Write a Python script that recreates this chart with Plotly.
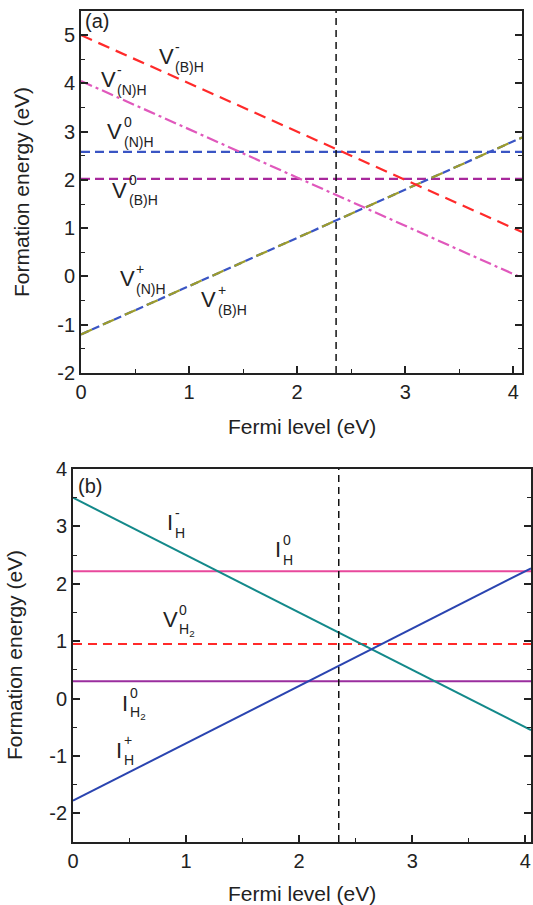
import plotly.graph_objects as go

# ---------------- data ----------------
# Panel (a)
fermi_a = [0.0, 4.08]
v_minus_bh = [5.0, 0.92]          # V^-_(B)H
v_minus_nh = [4.05, -0.03]        # V^-_(N)H
v_zero_nh = [2.58, 2.58]          # V^0_(N)H
v_zero_bh = [2.02, 2.02]          # V^0_(B)H
v_plus_nh = [-1.2, 2.88]          # V^+_(N)H
v_plus_bh = [-1.2, 2.88]          # V^+_(B)H
vline_a = 2.36

# Panel (b)
fermi_b = [0.0, 4.05]
i_minus_h = [3.5, -0.55]          # I^-_H
i_zero_h = [2.22, 2.22]           # I^0_H
v_zero_h2 = [0.95, 0.95]          # V^0_H2
i_zero_h2 = [0.30, 0.30]          # I^0_H2
i_plus_h = [-1.78, 2.27]          # I^+_H
vline_b = 2.35

xticks = [0, 1, 2, 3, 4]
xtick_text = ["0", "1", "2", "3", "4"]
yticks_a = [-2, -1, 0, 1, 2, 3, 4, 5]
ytick_text_a = ["-2", "-1", "0", "1", "2", "3", "4", "5"]
yticks_b = [-2, -1, 0, 1, 2, 3, 4]
ytick_text_b = ["-2", "-1", "0", "1", "2", "3", "4"]

# ---------------- figure ----------------
W, H = 533, 905
fig = go.Figure()

def line(x, y, color, dash, xa, ya, width=2.0):
    fig.add_trace(go.Scatter(x=x, y=y, mode="lines", xaxis=xa, yaxis=ya,
                             line=dict(color=color, dash=dash, width=width),
                             showlegend=False, hoverinfo="skip"))

# panel a
line(fermi_a, v_zero_nh, "#3a55c4", "9px,5px", "x", "y", 2.2)
line(fermi_a, v_zero_bh, "#a8289c", "9px,5px", "x", "y", 2.2)
line(fermi_a, v_plus_nh, "#3a55c4", "8px,4px", "x", "y", 2.2)
line(fermi_a, v_plus_bh, "#9c9c2c", "12px,12px", "x", "y", 2.2)
line(fermi_a, v_minus_bh, "#ff2a2a", "12px,7px", "x", "y", 2.2)
line(fermi_a, v_minus_nh, "#e058bc", "12px,4px,3px,4px", "x", "y", 2.2)
line([vline_a, vline_a], [-2, 5.5], "#111111", "7px,5px", "x", "y", 1.5)

# panel b
line(fermi_b, i_zero_h, "#e8489c", "solid", "x2", "y2")
line(fermi_b, v_zero_h2, "#ff2a2a", "9px,6px", "x2", "y2")
line(fermi_b, i_zero_h2, "#9a2e9e", "solid", "x2", "y2")
line(fermi_b, i_minus_h, "#13898a", "solid", "x2", "y2")
line(fermi_b, i_plus_h, "#2a44b0", "solid", "x2", "y2")
line([vline_b, vline_b], [-2.5, 4], "#111111", "7px,5px", "x2", "y2", 1.5)

FONT = "Liberation Sans, Arial, sans-serif"
tickfont = dict(family=FONT, size=20, color="#222222")

def xaxis_cfg(rng, dom, anchor):
    return dict(range=rng, domain=dom, anchor=anchor, showgrid=False, zeroline=False,
                automargin=False,
                showline=True, linecolor="#222222", linewidth=1.8, mirror=True,
                ticks="inside", ticklen=7, tickwidth=1.5, tickcolor="#222222",
                tickvals=xticks, ticktext=xtick_text, tickfont=tickfont,
                minor=dict(dtick=0.5, tick0=0, ticks="inside", ticklen=4,
                           tickwidth=1.3, tickcolor="#222222"))

def yaxis_cfg(rng, dom, anchor, tv, tt):
    return dict(range=rng, domain=dom, anchor=anchor, showgrid=False, zeroline=False,
                automargin=False,
                showline=True, linecolor="#222222", linewidth=1.8, mirror="ticks",
                ticks="inside", ticklen=7, tickwidth=1.5, tickcolor="#222222",
                tickvals=tv, ticktext=tt, tickfont=tickfont,
                minor=dict(dtick=0.5, tick0=0, ticks="inside", ticklen=4,
                           tickwidth=1.3, tickcolor="#222222"))

fig.update_layout(
    width=W, height=H, margin=dict(l=0, r=0, t=0, b=0),
    paper_bgcolor="white", plot_bgcolor="white",
    xaxis=xaxis_cfg([0, 4.08], [81 / W, 522 / W], "y"),
    yaxis=yaxis_cfg([-2, 5.5], [(H - 373) / H, (H - 11) / H], "x", yticks_a, ytick_text_a),
    xaxis2=xaxis_cfg([0, 4.05], [73 / W, 531 / W], "y2"),
    yaxis2=yaxis_cfg([-2.5, 4], [(H - 842) / H, (H - 469) / H], "x2", yticks_b, ytick_text_b),
)

ann = []

def text(x, y, s, xref, yref, size=21, xanchor="center", xshift=0, yshift=0):
    ann.append(dict(x=x, y=y, xref=xref, yref=yref, text=s, showarrow=False,
                    xanchor=xanchor, yanchor="middle", xshift=xshift, yshift=yshift,
                    font=dict(family=FONT, size=size, color="#222222")))

def label(x, y, main, sup, sub, ax, half):
    xr, yr = ("x", "y") if ax == "a" else ("x2", "y2")
    text(x, y, main, xr, yr, 22)
    text(x, y, sup, xr, yr, 14, "left", half, 10)
    text(x, y, sub, xr, yr, 14, "left", half, -10)

# panel a labels
label(0.79, 4.55, "V", "-", "(B)H", "a", 7)
label(0.25, 4.08, "V", "-", "(N)H", "a", 7)
label(0.31, 3.00, "V", "0", "(N)H", "a", 7)
label(0.36, 1.79, "V", "0", "(B)H", "a", 7)
label(0.43, -0.05, "V", "+", "(N)H", "a", 7)
label(1.18, -0.48, "V", "+", "(B)H", "a", 7)
text(0.15, 5.29, "(a)", "x", "y", 20)

# panel b labels
label(0.86, 3.06, "I", "-", "H", "b", 3)
label(1.81, 2.59, "I", "0", "H", "b", 3)
label(0.86, 1.37, "V", "0", "H<sub>2</sub>", "b", 7)
label(0.46, -0.08, "I", "0", "H<sub>2</sub>", "b", 3)
label(0.41, -0.90, "I", "+", "H", "b", 3)
text(0.15, 3.71, "(b)", "x2", "y2", 20)

# axis titles
for ycen in [(H - 426) / H, (H - 893) / H]:
    ann.append(dict(x=302 / W, y=ycen, xref="paper", yref="paper", text="Fermi level (eV)",
                    showarrow=False, xanchor="center", yanchor="middle",
                    font=dict(family=FONT, size=21, color="#222222")))
for xc, ycen in [(22 / W, (H - 192) / H), (14 / W, (H - 655) / H)]:
    ann.append(dict(x=xc, y=ycen, xref="paper", yref="paper", text="Formation energy (eV)",
                    showarrow=False, xanchor="center", yanchor="middle", textangle=-90,
                    font=dict(family=FONT, size=21, color="#222222")))

fig.update_layout(annotations=ann)
fig.write_html("out.html", config={"displayModeBar": False},
               post_script="document.body.style.margin='0';document.body.style.overflow='hidden';")
